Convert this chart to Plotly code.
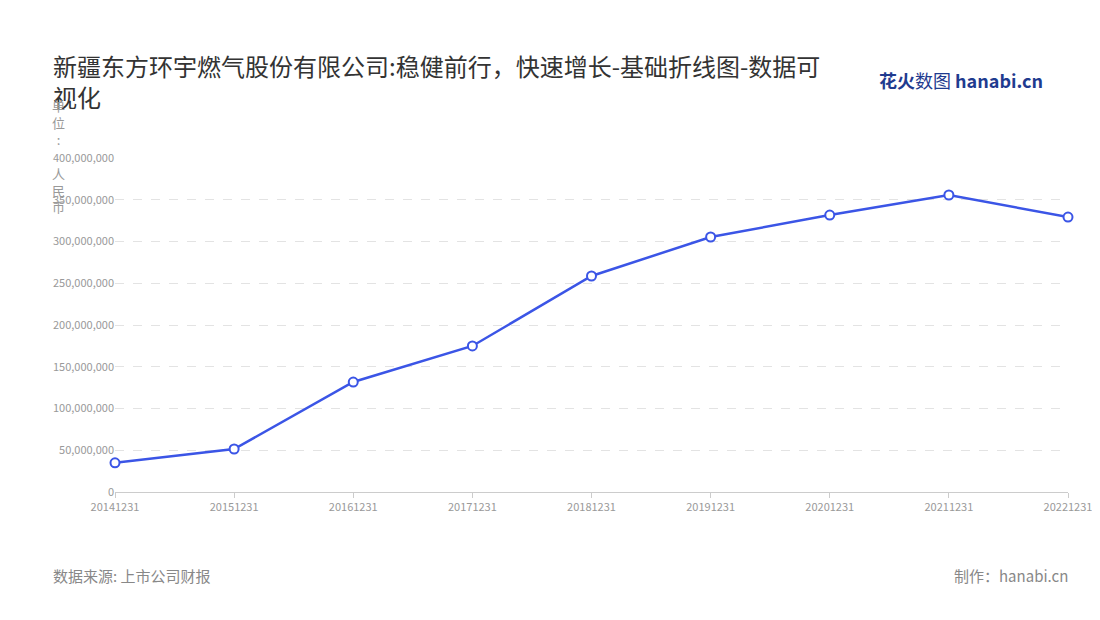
import plotly.graph_objects as go

dates = ["20141231","20151231","20161231","20171231","20181231","20191231","20201231","20211231","20221231"]
values = [35000000, 51500000, 131700000, 174900000, 258700000, 305400000, 331700000, 355700000, 329300000]
yticks = [0,50000000,100000000,150000000,200000000,250000000,300000000,350000000,400000000]

font = "Noto Sans CJK SC"
fig = go.Figure(go.Scatter(
    x=dates, y=values, mode="lines+markers", cliponaxis=False,
    line=dict(color="#3b55e6", width=2.5),
    marker=dict(size=9, color="white", line=dict(color="#3b55e6", width=2)),
))
fig.update_layout(
    width=1100, height=620, plot_bgcolor="white", paper_bgcolor="white",
    margin=dict(l=107, r=40, t=150, b=136, autoexpand=False), showlegend=False,
    font=dict(family=font, color="#999"),
    xaxis=dict(type="category", showgrid=False, showline=True, linecolor="#ccc", automargin=False,
               ticks="outside", ticklen=5, tickcolor="#ccc", tickfont=dict(size=11, color="#999"),
               range=[0, 8]),
    yaxis=dict(range=[0, 400000000], tickvals=yticks, tickformat=",d", automargin=False,
               showgrid=True, gridcolor="#e3e3e3", griddash="dash", zeroline=False,
               tickfont=dict(size=11, color="#999")),
    annotations=[
        dict(text="新疆东方环宇燃气股份有限公司:稳健前行，快速增长-基础折线图-数据可<br>视化",
             x=43, y=620-38, showarrow=False, align="left",
             xanchor="left", yanchor="top", font=dict(size=24, color="#333")),
        dict(text="单<br>位<br>:<br><br>人<br>民<br>币", x=50, y=620-86, showarrow=False,
             xanchor="center", yanchor="top", font=dict(size=13, color="#999")),
        dict(text="数据来源: 上市公司财报", x=43, y=620-567, xanchor="left", yanchor="middle",
             showarrow=False, font=dict(size=15, color="#888")),
        dict(text="制作：hanabi.cn", x=1062, y=620-567, xanchor="right", yanchor="middle",
             showarrow=False, font=dict(size=15, color="#888")),
        dict(text="<b>花火</b>数图 <b>hanabi.cn</b>", x=1037, y=620-72, xanchor="right", yanchor="middle",
             showarrow=False, font=dict(size=18, color="#1f3b8f")),
    ],
)
pw, ph = 1100-107-40, 620-150-136
for a in fig.layout.annotations:
    a.xref = "paper"; a.yref = "paper"
    a.x = (a.x - 107) / pw
    a.y = (a.y - 136) / ph
fig.write_html("out.html")
